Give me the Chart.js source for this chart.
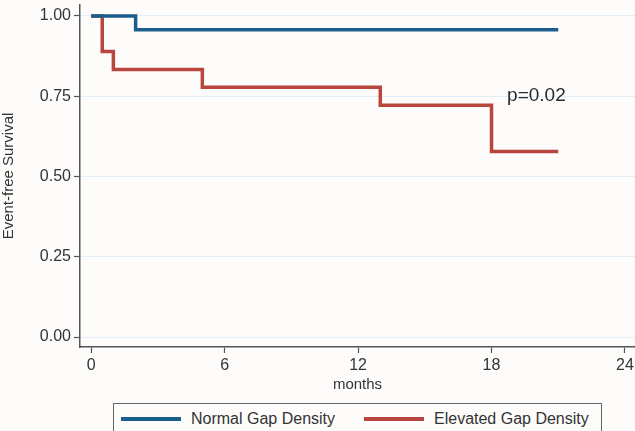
<!DOCTYPE html>
<html>
<head>
<meta charset="utf-8">
<script src="https://cdn.jsdelivr.net/npm/chart.js@4.4.1/dist/chart.umd.min.js"></script>
<style>
    html, body { margin: 0; padding: 0; background: #fdfcfb; }
    #wrap { position: relative; width: 635px; height: 431px; overflow: hidden; }
    #legend {
        position: absolute; left: 113px; top: 403px; width: 489px; height: 40px;
        border: 1px solid #666; background: #fdfcfb; box-sizing: border-box;
        font: 16px "Liberation Sans", Arial, sans-serif; color: #333;
    }
    .item { position: absolute; top: 5px; line-height: 20px; white-space: nowrap; }
    .item i { display: inline-block; width: 60px; height: 4px; vertical-align: middle; margin-right: 10px; position: relative; top: -1px; }
</style>
</head>
<body>
<div id="wrap">
    <canvas id="kmChart" width="635" height="431"></canvas>
    <div id="legend"></div>
</div>
<script>
// Data
const seriesNames = ['Normal Gap Density', 'Elevated Gap Density'];
const seriesColors = ['#1b5e8c', '#b8463f'];
const normalMonths = [0, 2, 21];
const normalSurvival = [1.0, 0.957, 0.957];
const elevatedMonths = [0, 0.5, 1, 5, 13, 18, 21];
const elevatedSurvival = [1.0, 0.889, 0.833, 0.778, 0.722, 0.578, 0.578];
const xTicks = [0, 6, 12, 18, 24];
const yTicks = [0, 0.25, 0.5, 0.75, 1.0];
const pLabel = 'p=0.02';

const toPoints = (xs, ys) => xs.map((x, i) => ({ x: x, y: ys[i] }));
const FONT = '"Liberation Sans", Arial, sans-serif';

// p-value annotation
const pValuePlugin = {
    id: 'pValue',
    afterDatasetsDraw(chart) {
        const ctx = chart.ctx;
        const x = chart.scales.x.getPixelForValue(18.7);
        const y = chart.scales.y.getPixelForValue(0.75);
        ctx.save();
        ctx.font = '19px ' + FONT;
        ctx.fillStyle = '#2b2b2b';
        ctx.textBaseline = 'middle';
        ctx.fillText(pLabel, x, y);
        ctx.restore();
    }
};

const bgPlugin = {
    id: 'bg',
    beforeDraw(chart) {
        const ctx = chart.ctx;
        ctx.save();
        ctx.fillStyle = '#fdfcfb';
        ctx.fillRect(0, 0, chart.width, chart.height);
        ctx.restore();
    }
};

new Chart(document.getElementById('kmChart'), {
    type: 'line',
    data: {
        datasets: [
            {
                label: seriesNames[0],
                data: toPoints(normalMonths, normalSurvival),
                borderColor: seriesColors[0],
                borderWidth: 3.5,
                stepped: 'before',
                pointRadius: 0,
                fill: false
            },
            {
                label: seriesNames[1],
                data: toPoints(elevatedMonths, elevatedSurvival),
                borderColor: seriesColors[1],
                borderWidth: 3.5,
                stepped: 'before',
                pointRadius: 0,
                fill: false
            }
        ]
    },
    options: {
        responsive: false,
        animation: false,
        layout: { padding: { top: 5, right: 0, bottom: 31, left: 0 } },
        plugins: {
            legend: { display: false },
            tooltip: { enabled: false }
        },
        scales: {
            x: {
                type: 'linear',
                min: -0.5,
                max: 24.45,
                afterBuildTicks: (scale) => { scale.ticks = xTicks.map(v => ({ value: v })); },
                afterFit: (scale) => { scale.height = 53; scale.paddingLeft = 0; scale.paddingRight = 0; },
                grid: { drawOnChartArea: false, tickLength: 6, tickColor: '#555', tickWidth: 1.2 },
                border: { display: true, color: '#555', width: 1.5 },
                ticks: { color: '#333', padding: 3, font: { size: 16, family: FONT } },
                title: {
                    display: true, text: 'months', color: '#333',
                    font: { size: 15, family: FONT },
                    padding: { top: 0, bottom: 6 }
                }
            },
            y: {
                type: 'linear',
                min: -0.031,
                max: 1.034,
                afterBuildTicks: (scale) => { scale.ticks = yTicks.map(v => ({ value: v })); },
                afterFit: (scale) => { scale.width = 80; scale.paddingTop = 0; scale.paddingBottom = 0; },
                grid: { color: '#e3eef8', lineWidth: 1, tickLength: 6, tickColor: '#555', tickWidth: 1.2 },
                border: { display: true, color: '#555', width: 1.5 },
                ticks: {
                    color: '#333', padding: 3,
                    font: { size: 16, family: FONT },
                    callback: (v) => v.toFixed(2)
                },
                title: {
                    display: true, text: 'Event-free Survival', color: '#333',
                    font: { size: 15, family: FONT },
                    padding: { top: 0, bottom: 0 }
                }
            }
        }
    },
    plugins: [bgPlugin, pValuePlugin]
});

// HTML legend
const legend = document.getElementById('legend');
const legendLeft = [7, 250];
seriesNames.forEach((name, i) => {
    const d = document.createElement('div');
    d.className = 'item';
    d.style.left = legendLeft[i] + 'px';
    d.innerHTML = `<i style="background:${seriesColors[i]}"></i>${name}`;
    legend.appendChild(d);
});
</script>
</body>
</html>
